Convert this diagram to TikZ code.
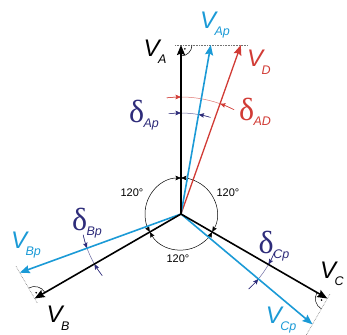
\documentclass[tikz,border=0pt]{standalone}
\usepackage{fontspec}
\setmainfont{Liberation Sans}
\newfontfamily\grfont{Liberation Serif}
\usetikzlibrary{arrows.meta, positioning, calc}
\definecolor{cBlue} {HTML}{1B9AD6}
\definecolor{cRed}  {HTML}{D13B35}
\definecolor{cNavy} {HTML}{2E2C7A}
\newcommand\vsym[1]{{\fontsize{24}{24}\selectfont\itshape V}\kern-1.5pt\raisebox{-7.5pt}{\fontsize{12.5}{12.5}\selectfont\itshape #1}}
\newcommand\dsym[1]{{\grfont\fontsize{32}{32}\selectfont δ}\kern-0.5pt\raisebox{-5pt}{\fontsize{12.5}{12.5}\selectfont\itshape #1}}
\begin{document}
\begin{tikzpicture}[x=1pt, y=1pt,
      vec/.style = {line width=1.6pt, -{Stealth[length=10pt, width=8pt, inset=1.5pt]}},
      dim/.style = {line width=0.5pt, -{Stealth[length=5.5pt, width=4.5pt, inset=1pt]}},
      circ/.style = {line width=0.5pt, {Stealth[length=5.5pt, width=4.5pt, inset=1pt]}-{Stealth[length=5.5pt, width=4.5pt, inset=1pt]}},
      rt/.style = {densely dotted, line width=0.6pt, black!55},
      lb/.style = {inner sep=0pt},
      deg/.style = {inner sep=0pt, font=\fontsize{11}{11}\selectfont} ]
    \useasboundingbox (-181,-120) rectangle (166,214);
    \coordinate (O) at (0,0);
    \coordinate (A)  at (90:169);
    \coordinate (Ap) at (80:171.6);
    \coordinate (D)  at (70.5:179.2);
    \coordinate (B)  at (210:169);
    \coordinate (Bp) at (200:171.6);
    \coordinate (C)  at (330:169);
    \coordinate (Cp) at (320:171.6);
    \draw[rt] ($(A)+(-6,0)$) -- ($(A)+(67,0)$);
    \draw[rt] ($(B)+(300:5)$) -- ($(B)+(120:38)$);
    \draw[rt] ($(C)+(60:5)$) -- ($(C)+(240:42)$);
    \draw[line width=0.5pt] ($(A)+(270:11)$) arc (270:360:11);
    \draw[line width=0.5pt] ($(B)+(30:12)$) arc (30:120:12);
    \draw[line width=0.5pt] ($(C)+(150:12)$) arc (150:240:12);
    \fill ($(A)+(315:5.5)$) circle (0.9);
    \fill ($(B)+(75:6)$) circle (0.9);
    \fill ($(C)+(195:6)$) circle (0.9);
    \draw[circ] (90:36) arc (90:210:36);
    \draw[circ] (210:36) arc (210:330:36);
    \draw[circ] (-30:36) arc (-30:90:36);
    \draw[line width=0.5pt, cNavy!70] (96:101) arc (96:74:101);
    \draw[dim, cNavy] (97:101) arc (97:90:101);
    \draw[dim, cNavy] (73:101) arc (73:80:101);
    \draw[line width=0.5pt, cRed!70] (97:117) arc (97:63:117);
    \draw[dim, cRed] (97:117) arc (97:90:117);
    \draw[dim, cRed] (63:117) arc (63:70.5:117);
    \draw[line width=0.5pt, cNavy!70] (192:100) arc (192:218:100);
    \draw[dim, cNavy] (192:100) arc (192:200:100);
    \draw[dim, cNavy] (218:100) arc (218:210:100);
    \draw[line width=0.5pt, cNavy!70] (-22:101) arc (-22:-48:101);
    \draw[dim, cNavy] (-22:101) arc (-22:-30:101);
    \draw[dim, cNavy] (-48:101) arc (-48:-40:101);
    \draw[vec, cRed, line width=1.3pt] (O) -- (D);
    \draw[vec, cBlue] (O) -- (Ap);  \draw[vec, cBlue] (O) -- (Bp);  \draw[vec, cBlue] (O) -- (Cp);
    \draw[vec] (O) -- (A);  \draw[vec] (O) -- (B);  \draw[vec] (O) -- (C);
    \node[lb] (lA)  at (-26,162.5) {\vsym{A}};
    \node[lb, text=cBlue] (lAp) at (34,189) {\vsym{Ap}};
    \node[lb, text=cRed] (lD)  at (78,152) {\vsym{D}};
    \node[lb] (lB)  at (-123,-104) {\vsym{B}};
    \node[lb, text=cBlue] (lBp) at (-155,-31) {\vsym{Bp}};
    \node[lb] (lC)  at (151,-60) {\vsym{C}};
    \node[lb, text=cBlue] (lCp) at (100,-106) {\vsym{Cp}};
    \node[lb, text=cNavy] (dAp) at (-37,99) {\dsym{Ap}};
    \node[lb, text=cRed] (dAD) at (74,102) {\dsym{AD}};
    \node[lb, text=cNavy] (dBp) at (-94,-9) {\dsym{Bp}};
    \node[lb, text=cNavy] (dCp) at (93,-32) {\dsym{Cp}};
    \node[deg] (gL) at (-49,21) {120°};
    \node[deg] (gR) at (47,21) {120°};
    \node[deg] (gB) at (-3,-45) {120°};
  \end{tikzpicture}
\end{document}
